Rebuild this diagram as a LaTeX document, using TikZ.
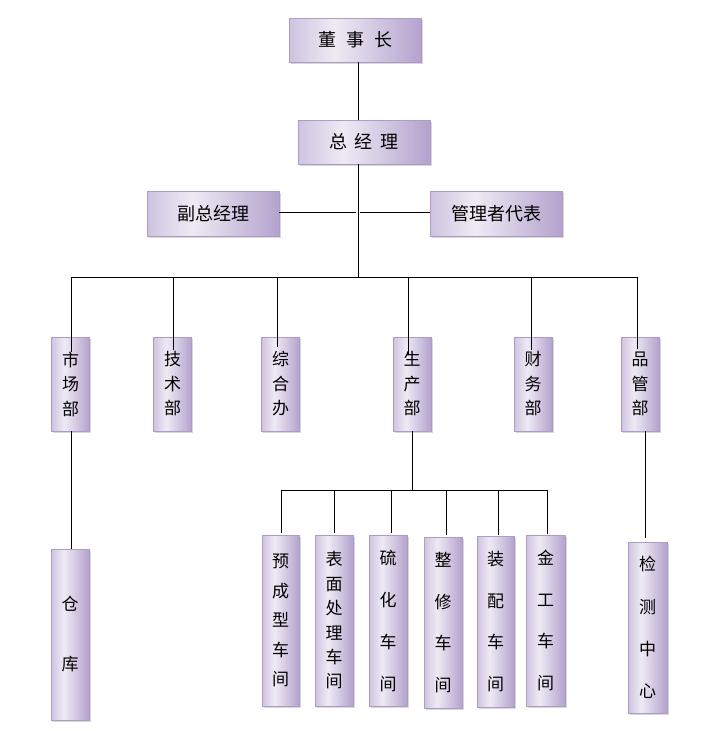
\documentclass[tikz,border=0pt]{standalone}
\usepackage{fontspec}
\newfontfamily\cjk{Noto Sans CJK SC}
\usetikzlibrary{shadows}
\definecolor{lavA}{HTML}{CFC3E0}
\definecolor{lavB}{HTML}{EEEAF4}
\definecolor{lavC}{HTML}{B4A2CD}
\definecolor{lavBorder}{HTML}{AE9CC8}
\pgfdeclarehorizontalshading{boxshade}{100bp}{color(0bp)=(lavA); color(25bp)=(lavA); color(42bp)=(lavB); color(75bp)=(lavC); color(100bp)=(lavC)}
\tikzset{
  box/.style={draw=lavBorder, line width=0.8pt, shading=boxshade, inner sep=0pt, align=center,
    drop shadow={shadow xshift=1.8pt, shadow yshift=-1.8pt, fill=black!30, opacity=0.5}},
  wide/.style={box, minimum width=132pt, minimum height=44pt, font=\cjk\fontsize{18}{22}\selectfont},
  dept/.style={box, minimum width=38pt, minimum height=94pt, font=\cjk\fontsize{17}{24.5}\selectfont},
  tall/.style={box, minimum width=38pt, minimum height=171pt},
  conn/.style={line width=1pt, black}
}
\begin{document}
\begin{tikzpicture}[x=1pt,y=-1pt]
\useasboundingbox (0,0) rectangle (710,731);
% top boxes
\node[wide] (dsz) at (355.5,40) {董\hspace{10pt}事\hspace{10pt}长};
\node[wide] (zjl) at (364,142) {总\hspace{8pt}经\hspace{8pt}理};
\node[wide, minimum height=45pt] (fzjl) at (213,213.5) {副总经理};
\node[wide, minimum height=45pt] (glz) at (496,213.5) {管理者代表};
% departments
\node[dept] (sc) at (70.5,384) {市\\场\\部};
\node[dept] (js) at (172.5,384) {技\\术\\部};
\node[dept] (zh) at (280.5,384) {综\\合\\办};
\node[dept] (scb) at (412,384) {生\\产\\部};
\node[dept] (cw) at (533,384) {财\\务\\部};
\node[dept] (pg) at (640,384) {品\\管\\部};
% lower boxes
\node[tall, font=\cjk\fontsize{17}{60}\selectfont] (ck) at (70,634.5) {仓\\库};
\node[tall, minimum width=37pt, font=\cjk\fontsize{17}{29.5}\selectfont] (w1) at (280.5,620.5) {预\\成\\型\\车\\间};
\node[tall, font=\cjk\fontsize{17}{24.4}\selectfont] (w2) at (334,620.5) {表\\面\\处\\理\\车\\间};
\node[tall, font=\cjk\fontsize{17}{41.7}\selectfont] (w3) at (388,621) {硫\\化\\车\\间};
\node[tall, font=\cjk\fontsize{17}{41.7}\selectfont] (w4) at (443,622.5) {整\\修\\车\\间};
\node[tall, minimum width=37pt, font=\cjk\fontsize{17}{41.7}\selectfont] (w5) at (495.5,621.5) {装\\配\\车\\间};
\node[tall, minimum width=39pt, font=\cjk\fontsize{17}{41.7}\selectfont] (w6) at (545.5,620.5) {金\\工\\车\\间};
\node[tall, minimum width=39pt, font=\cjk\fontsize{17}{42.3}\selectfont] (jc) at (647.5,627.5) {检\\测\\中\\心};
% coordinates
\coordinate (t0) at (358,212);
\coordinate (t1) at (358,277);
\coordinate (bL) at (71,277);
\coordinate (bR) at (637,277);
\coordinate (d2) at (173,277);
\coordinate (d3) at (277,277);
\coordinate (d4) at (408,277);
\coordinate (d5) at (531,277);
\coordinate (p0) at (412,490);
\coordinate (pL) at (281,490);
\coordinate (pR) at (547,490);
\coordinate (q2) at (334,490);
\coordinate (q3) at (391,490);
\coordinate (q4) at (446,490);
\coordinate (q5) at (498,490);
\coordinate (g0) at (645,431);
\coordinate (g1) at (645,538);
% connectors
\draw[conn] (t0 |- dsz.south) -- (t0 |- zjl.north);
\draw[conn] (t1 |- zjl.south) -- (t1);
\draw[conn] (fzjl.east |- t0) -- ([xshift=-2pt]t0);
\draw[conn] ([xshift=2pt]t0) -- (glz.west |- t0);
\draw[conn] (bL) -- (bR);
\draw[conn] (bL) -- (71,352);
\draw[conn] (d2) -- (173,350);
\draw[conn] (d3) -- (277,347);
\draw[conn] (d4) -- (408,355);
\draw[conn] (d5) -- (531,350);
\draw[conn] (bR) -- (637,349);
\draw[conn] (bL |- sc.south) -- (bL |- ck.north);
\draw[conn] (p0 |- scb.south) -- (p0);
\draw[conn] (pL) -- (pR);
\draw[conn] (pL) -- (281,533);
\draw[conn] (q2) -- (334,533);
\draw[conn] (q3) -- (391,533);
\draw[conn] (q4) -- (446,535);
\draw[conn] (q5) -- (498,535);
\draw[conn] (pR) -- (547,534);
\draw[conn] (g0) -- (g1);
\end{tikzpicture}
\end{document}
